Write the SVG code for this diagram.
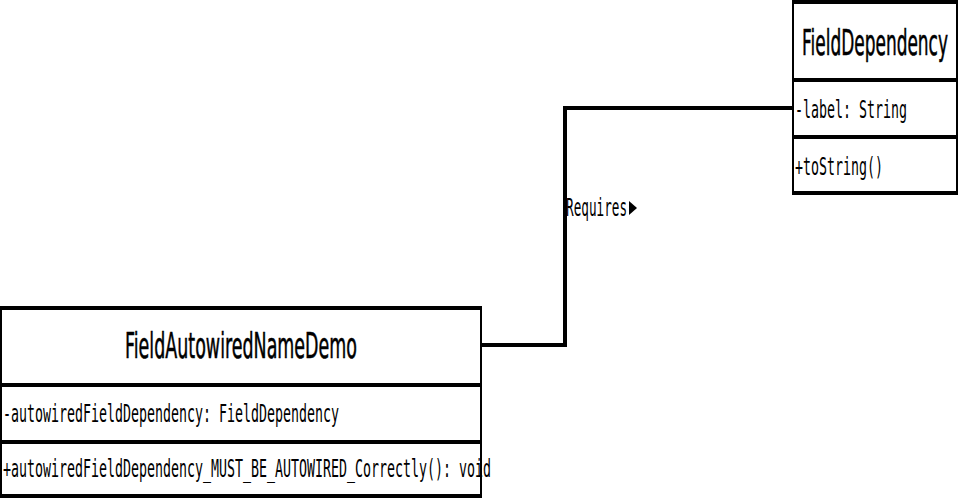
<svg xmlns="http://www.w3.org/2000/svg" width="959" height="500" viewBox="0 0 959 500">
<style>
.box{fill:#fff;stroke:#000;stroke-width:2}
.sep{stroke:#000;stroke-width:4}
.title{font-family:"DejaVu Sans","Liberation Sans",sans-serif;font-size:36px;fill:#000;stroke:#000;stroke-width:0.6}
.mono{font-family:"DejaVu Sans Mono","Liberation Mono",monospace;font-size:24px;fill:#000}
.conn{fill:none;stroke:#000;stroke-width:4}
</style>
<rect width="959" height="500" fill="#fff"/>
<g id="connectors">
<path class="conn" d="M481 345 H565 V108 H793"/>
<text class="mono" x="566" y="216" textLength="61" lengthAdjust="spacingAndGlyphs">Requires</text>
<polygon points="629,201 637,208 629,215" fill="#000"/>
</g>
<g id="FieldDependency">
<rect class="box" x="793" y="2" width="164" height="191"/>
<line class="sep" x1="792" y1="2" x2="958" y2="2"/>
<line class="sep" x1="792" y1="80" x2="958" y2="80"/>
<line class="sep" x1="792" y1="137" x2="958" y2="137"/>
<line class="sep" x1="792" y1="193" x2="958" y2="193"/>
<text class="title" x="802" y="55" textLength="146" lengthAdjust="spacingAndGlyphs">FieldDependency</text>
<text class="mono" x="795" y="118" textLength="112" lengthAdjust="spacingAndGlyphs">-label: String</text>
<text class="mono" x="795" y="175" textLength="88" lengthAdjust="spacingAndGlyphs">+toString()</text>
</g>
<g id="FieldAutowiredNameDemo">
<rect class="box" x="1" y="308" width="480" height="188"/>
<line class="sep" x1="0" y1="308" x2="482" y2="308"/>
<line class="sep" x1="0" y1="385" x2="482" y2="385"/>
<line class="sep" x1="0" y1="442" x2="482" y2="442"/>
<line class="sep" x1="0" y1="496" x2="482" y2="496"/>
<text class="title" x="125" y="358" textLength="232" lengthAdjust="spacingAndGlyphs">FieldAutowiredNameDemo</text>
<text class="mono" x="3" y="422" textLength="336" lengthAdjust="spacingAndGlyphs">-autowiredFieldDependency: FieldDependency</text>
<text class="mono" x="3" y="477" textLength="488" lengthAdjust="spacingAndGlyphs">+autowiredFieldDependency_MUST_BE_AUTOWIRED_Correctly(): void</text>
</g>
</svg>
